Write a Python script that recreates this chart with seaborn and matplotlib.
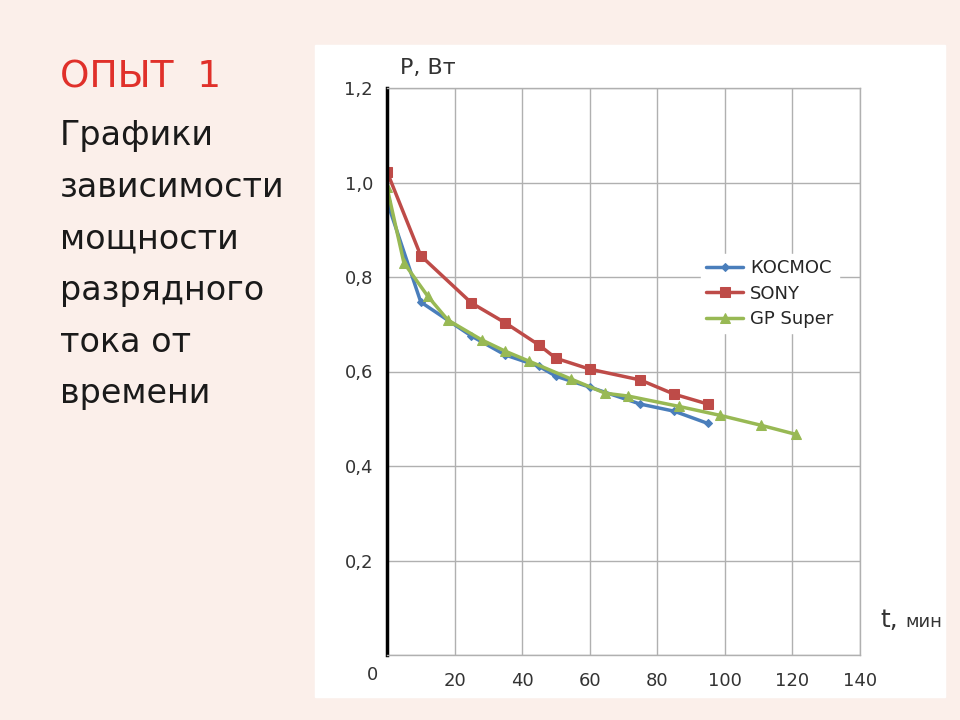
import matplotlib
matplotlib.use('Agg')
import matplotlib.pyplot as plt
import seaborn as sns
import pandas as pd

sns.set_style("white")
plt.rcParams['font.family'] = ['DejaVu Sans']

t_kosmos = [0, 10, 25, 35, 45, 50, 60, 75, 85, 95]
p_kosmos = [0.96, 0.747, 0.675, 0.635, 0.611, 0.59, 0.567, 0.531, 0.516, 0.49]
t_sony = [0, 10, 25, 35, 45, 50, 60, 75, 85, 95]
p_sony = [1.023, 0.845, 0.745, 0.703, 0.656, 0.628, 0.605, 0.582, 0.552, 0.531]
t_gp = [0, 5, 12, 18, 28, 35, 42, 54.5, 64.6, 71.4, 86.5, 98.7, 110.8, 121]
p_gp = [0.99, 0.83, 0.76, 0.709, 0.667, 0.643, 0.622, 0.584, 0.554, 0.548, 0.526, 0.507, 0.486, 0.467]

df = pd.concat([
    pd.DataFrame({'t': t_kosmos, 'P': p_kosmos, 'series': 'КОСМОС'}),
    pd.DataFrame({'t': t_sony, 'P': p_sony, 'series': 'SONY'}),
    pd.DataFrame({'t': t_gp, 'P': p_gp, 'series': 'GP Super'}),
])
palette = {'КОСМОС': '#4a7ebb', 'SONY': '#be4b48', 'GP Super': '#98b954'}
markers = {'КОСМОС': 'D', 'SONY': 's', 'GP Super': '^'}
sizes = {'КОСМОС': 4, 'SONY': 7, 'GP Super': 7}

fig = plt.figure(figsize=(9.6, 7.2), dpi=100)
fig.patch.set_facecolor('#fbefea')
# white panel behind the chart
fig.patches.append(plt.Rectangle((315/960, 1-697/720), 630/960, 652/720,
                                 transform=fig.transFigure, color='white', zorder=-5))

ax = fig.add_axes([387/960, 1-655/720, 473/960, 567/720])
ax.set_zorder(2)
ax.set_facecolor('white')
for name in ['КОСМОС', 'SONY', 'GP Super']:
    sub = df[df.series == name]
    sns.lineplot(data=sub, x='t', y='P', ax=ax, color=palette[name], marker=markers[name],
                 markersize=sizes[name], markeredgecolor=palette[name], linewidth=2.5, label=name)

ax.set_xlim(0, 140)
ax.set_ylim(0, 1.2)
ax.set_xticks(range(0, 141, 20))
ax.set_yticks([0, 0.2, 0.4, 0.6, 0.8, 1.0, 1.2])
ax.set_xticklabels(['', '20', '40', '60', '80', '100', '120', '140'], fontsize=13, color='#333333')
ax.set_yticklabels(['', '0,2', '0,4', '0,6', '0,8', '1,0', '1,2'], fontsize=13, color='#333333')
ax.tick_params(axis='x', pad=12, length=0)
ax.tick_params(axis='y', length=0, pad=10)
ax.grid(True, color='#b0b0b0', linewidth=1)
for s in ['top', 'right', 'bottom']:
    ax.spines[s].set_color('#b0b0b0')
    ax.spines[s].set_linewidth(1)
ax.spines['left'].set_linewidth(2.5)
ax.spines['left'].set_color('black')
ax.set_xlabel('')
ax.set_ylabel('')
fig.text(373/960, 1-675/720, '0', fontsize=13, color='#333333', ha='center', va='center')
fig.text(400/960, 1-68/720, 'P, Вт', fontsize=16, color='#333333', va='center')
fig.text(880/960, 1-620/720, 't,', fontsize=18, color='#333333', va='center')
fig.text(905/960, 1-622/720, 'мин', fontsize=13, color='#333333', va='center')

leg = ax.legend(loc='upper left', bbox_to_anchor=(305/473, (655-245)/567), frameon=True,
                fontsize=13, handlelength=2, borderpad=0.3, labelspacing=0.4, handletextpad=0.4)
leg.get_frame().set_edgecolor('white')
leg.get_frame().set_alpha(1)

fig.text(60/960, 1-78/720, 'ОПЫТ  1', fontsize=27, color='#e0302a', va='center')
lines = ['Графики', 'зависимости', 'мощности', 'разрядного', 'тока от', 'времени']
for i, s in enumerate(lines):
    fig.text(60/960, 1-(136 + 51.5*i)/720, s, fontsize=24, color='#1a1a1a', va='center')

fig.savefig('out.png', dpi=100, facecolor=fig.get_facecolor())
